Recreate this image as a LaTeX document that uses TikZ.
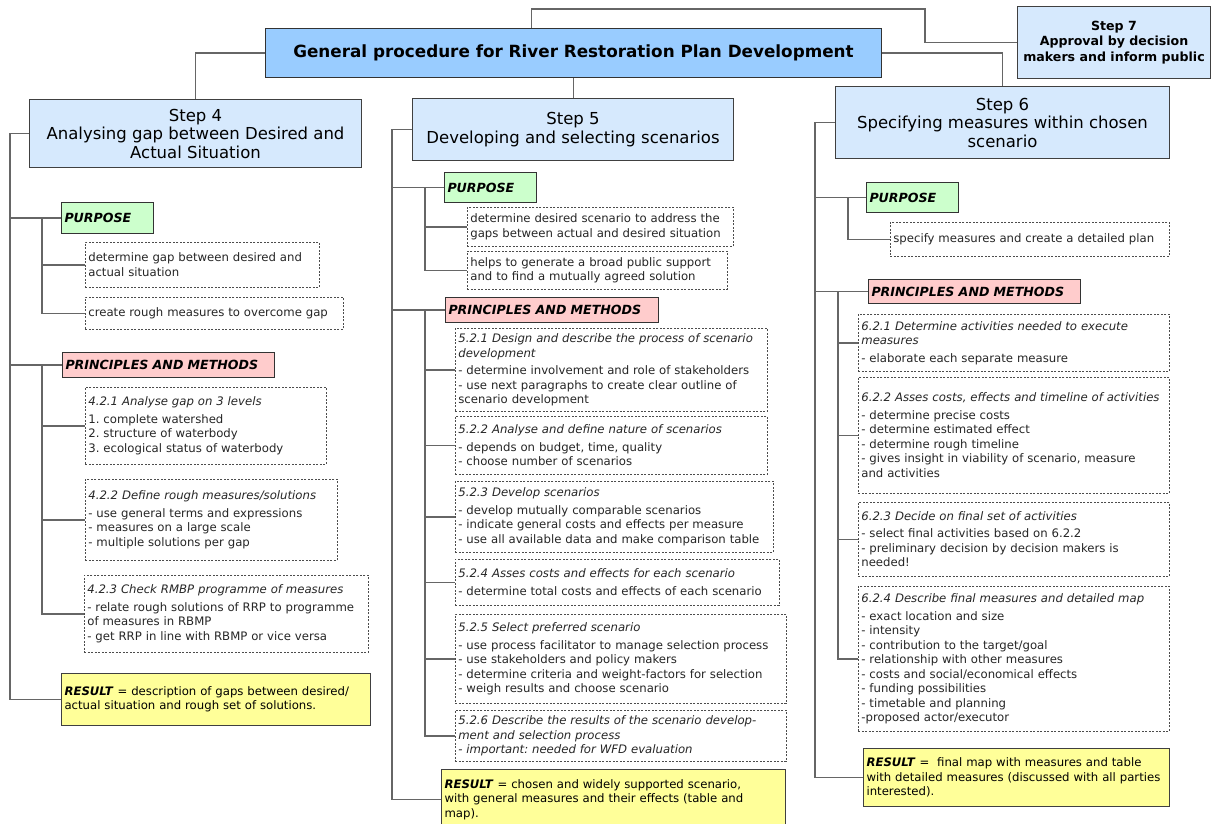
\documentclass[tikz,border=0pt]{standalone}
\usepackage{fontspec}
\setmainfont{DejaVu Sans}
\usepackage{xcolor}
\usepackage{tikz}
\frenchspacing
\definecolor{titleblue}{HTML}{99CCFF}
\definecolor{stepblue}{HTML}{D6E9FD}
\definecolor{purposegreen}{HTML}{CCFFCC}
\definecolor{methodred}{HTML}{FFCCCC}
\definecolor{resultyellow}{HTML}{FFFF99}
\tikzstyle{every node}=[anchor=north west,inner sep=3pt,text=black!85,font=\fontsize{11.7}{14.5}\selectfont]
\tikzstyle{titlebox}=[draw=black!80,line width=1pt,fill=titleblue,text=black,align=center,font=\fontsize{16.8}{19}\selectfont\bfseries]
\tikzstyle{stepbox}=[draw=black!75,line width=1pt,fill=stepblue,text=black,align=center,font=\fontsize{16.5}{18.5}\selectfont]
\tikzstyle{purpose}=[draw=black!80,line width=1pt,fill=purposegreen,text=black,align=left,font=\fontsize{12.6}{14}\selectfont\bfseries\itshape]
\tikzstyle{method}=[draw=black!80,line width=1pt,fill=methodred,text=black,align=left,font=\fontsize{12.6}{14}\selectfont\bfseries\itshape]
\tikzstyle{item}=[draw=black!70,line width=0.7pt,dash pattern=on 2pt off 1.5pt,align=left]
\tikzstyle{result}=[draw=black!75,line width=1pt,fill=resultyellow,text=black,align=left]
\tikzstyle{link}=[draw=black!60,line width=1.5pt]
\tikzset{boxsize/.style 2 args={text width=#1pt,minimum height=#2pt}}
\newcommand{\head}[1]{\textit{#1}\\[3pt]}
\newcommand{\res}{\textbf{\textit{RESULT}} =}

\begin{document}
\begin{tikzpicture}[x=1pt,y=-1pt]
\fill[white] (0,0) rectangle (1211,823);
\useasboundingbox (0,0) rectangle (1211,823);
% top row
\node[titlebox,minimum width=616pt,minimum height=49pt] (title) at (265,28) {General procedure for River Restoration Plan Development};
\node[stepbox,minimum width=193pt,minimum height=72pt,font=\fontsize{12.6}{15.3}\selectfont\bfseries] (s7) at (1017,6) {Step 7\\Approval by decision\\makers and inform public};
\node[stepbox,minimum width=332pt,minimum height=68pt] (s4) at (29,99) {Step 4\\Analysing gap between Desired and\\Actual Situation};
\node[stepbox,minimum width=321pt,minimum height=62pt] (s5) at (412,98) {Step 5\\Developing and selecting scenarios};
\node[stepbox,minimum width=334pt,minimum height=72pt] (s6) at (835,86) {Step 6\\Specifying measures within chosen\\scenario};

% step 4
\node[purpose,boxsize={86}{31}] (p4) at (61,202) {PURPOSE};
\node[item,boxsize={228}{45}] (a41) at (85,242) {determine gap between desired and\\actual situation};
\node[item,boxsize={252}{32}] (a42) at (85,297) {create rough measures to overcome gap};
\node[method,boxsize={206}{25}] (m4) at (62,352) {PRINCIPLES AND METHODS};
\node[item,boxsize={235}{77}] (b41) at (85,387) {\head{4.2.1 Analyse gap on 3 levels}1. complete watershed\\2. structure of waterbody\\3. ecological status of waterbody};
\node[item,boxsize={246}{81}] (b42) at (85,479) {\head{4.2.2 Define rough measures/solutions}- use general terms and expressions\\- measures on a large scale\\- multiple solutions per gap};
\node[item,boxsize={278}{77}] (b43) at (84,575) {\head{4.2.3 Check RMBP programme of measures}- relate rough solutions of RRP to programme\\of measures in RBMP\\- get RRP in line with RBMP or vice versa};
\node[result,boxsize={303}{52}] (r4) at (61,673) {\res{} description of gaps between desired/\\actual situation and rough set of solutions.};

% step 5
\node[purpose,boxsize={86}{30}] (p5) at (444,172) {PURPOSE};
\node[item,boxsize={260}{39}] (a51) at (467,207) {determine desired scenario to address the\\gaps between actual and desired situation};
\node[item,boxsize={254}{38}] (a52) at (467,251) {helps to generate a broad public support\\and to find a mutually agreed solution};
\node[method,boxsize={207}{25}] (m5) at (445,297) {PRINCIPLES AND METHODS};
\node[item,boxsize={306}{83}] (b51) at (455,328) {\textit{5.2.1 Design and describe the process of scenario}\\\head{development}- determine involvement and role of stakeholders\\- use next paragraphs to create clear outline of\\scenario development};
\node[item,boxsize={306}{58}] (b52) at (455,416) {\head{5.2.2 Analyse and define nature of scenarios}- depends on budget, time, quality\\- choose number of scenarios};
\node[item,boxsize={312}{71}] (b53) at (455,481) {\head{5.2.3 Develop scenarios}- develop mutually comparable scenarios\\- indicate general costs and effects per measure\\- use all available data and make comparison table};
\node[item,boxsize={318}{46}] (b54) at (455,559) {\head{5.2.4 Asses costs and effects for each scenario}- determine total costs and effects of each scenario};
\node[item,boxsize={325}{89}] (b55) at (455,614) {\head{5.2.5 Select preferred scenario}- use process facilitator to manage selection process\\- use stakeholders and policy makers\\- determine criteria and weight-factors for selection\\- weigh results and choose scenario};
\node[item,boxsize={325}{51}] (b56) at (455,710) {\itshape 5.2.6 Describe the results of the scenario develop-\\ment and selection process\\- important: needed for WFD evaluation};
\node[result,boxsize={338}{60}] (r5) at (441,769) {\res{} chosen and widely supported scenario,\\with general measures and their effects (table and\\map).};

% step 6
\node[purpose,boxsize={86}{30}] (p6) at (866,182) {PURPOSE};
\node[item,boxsize={273}{34}] (a61) at (890,222) {specify measures and create a detailed plan};
\node[method,boxsize={206}{24}] (m6) at (868,279) {PRINCIPLES AND METHODS};
\node[item,boxsize={305}{57}] (b61) at (858,314) {\textit{6.2.1 Determine activities needed to execute}\\\head{measures}- elaborate each separate measure};
\node[item,boxsize={305}{116}] (b62) at (858,377) {\head{6.2.2 Asses costs, effects and timeline of activities}- determine precise costs\\- determine estimated effect\\- determine rough timeline\\- gives insight in viability of scenario, measure\\and activities};
\node[item,boxsize={305}{74}] (b63) at (858,502) {\head{6.2.3 Decide on final set of activities}- select final activities based on 6.2.2\\- preliminary decision by decision makers is\\needed!};
\node[item,boxsize={305}{145}] (b64) at (858,586) {\head{6.2.4 Describe final measures and detailed map}- exact location and size\\- intensity\\- contribution to the target/goal\\- relationship with other measures\\- costs and social/economical effects\\- funding possibilities\\- timetable and planning\\-proposed actor/executor};
\node[result,boxsize={300}{58}] (r6) at (863,748) {\res{}\ \ final map with measures and table\\with detailed measures (discussed with all parties\\interested).};

% top connectors
\coordinate (k7) at (925,9);
\draw[link] (title.west) -| (s4.north);
\draw[link] (title.south) -- (title.south |- s5.north);
\draw[link] (title.east) -| (s6.north);
\draw[link] ([xshift=-42pt]title.north) |- (k7) |- (s7.west);

% spines
\coordinate (t4) at (10,0 |- s4.west);
\coordinate (u4) at (42,0 |- p4.west);
\coordinate (v4) at (42,0 |- m4.west);
\draw[link] (s4.west) -- (t4) |- (r4.west);
\draw[link] (t4) |- (p4.west);
\draw[link] (t4) |- (m4.west);
\foreach \n in {a41,a42} \draw[link] (u4) |- (\n.west);
\foreach \n in {b41,b42,b43} \draw[link] (v4) |- (\n.west);

\coordinate (t5) at (392,0 |- s5.west);
\coordinate (u5) at (425,0 |- p5.west);
\coordinate (v5) at (425,0 |- m5.west);
\draw[link] (s5.west) -- (t5) |- (r5.west);
\draw[link] (t5) |- (p5.west);
\draw[link] (t5) |- (m5.west);
\foreach \n in {a51,a52} \draw[link] (u5) |- (\n.west);
\foreach \n in {b51,b52,b53,b54,b55,b56} \draw[link] (v5) |- (\n.west);

\coordinate (t6) at (815,0 |- s6.west);
\coordinate (u6) at (848,0 |- p6.west);
\coordinate (v6) at (838,0 |- m6.west);
\draw[link] (s6.west) -- (t6) |- (r6.west);
\draw[link] (t6) |- (p6.west);
\draw[link] (t6) |- (m6.west);
\draw[link] (u6) |- (a61.west);
\foreach \n in {b61,b62,b63,b64} \draw[link] (v6) |- (\n.west);
\end{tikzpicture}
\end{document}
